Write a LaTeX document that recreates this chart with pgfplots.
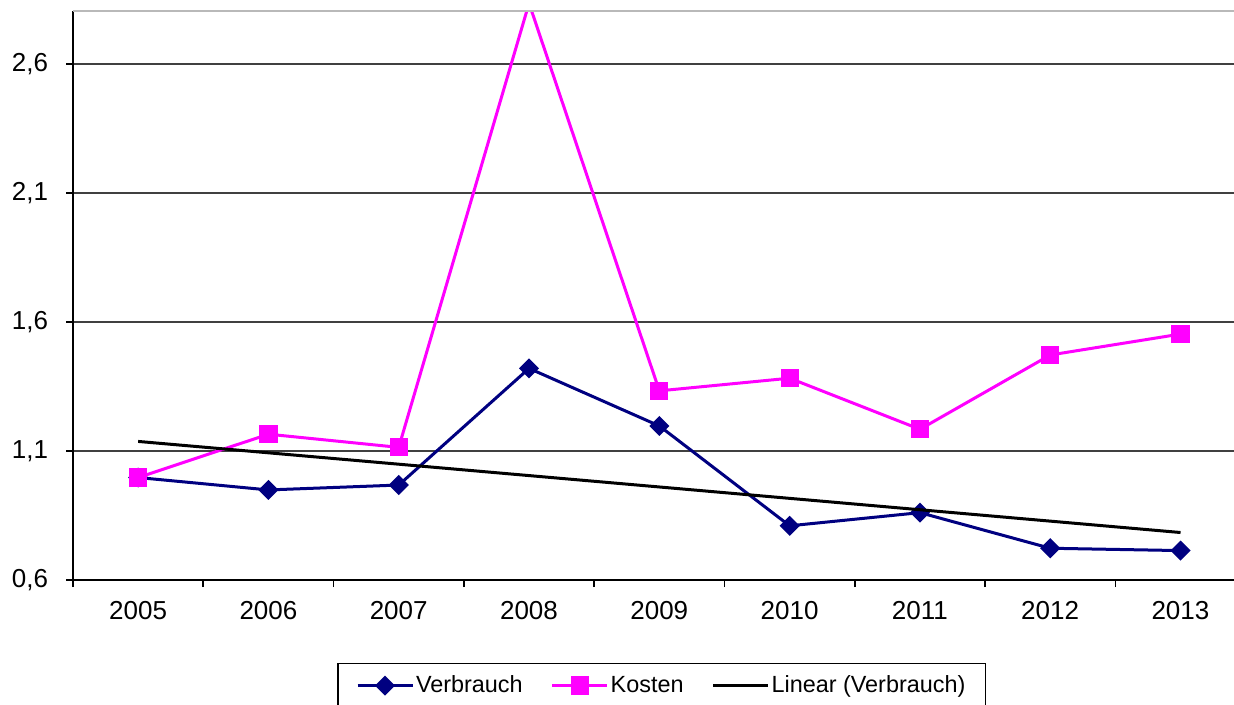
\documentclass[border=0pt]{standalone}
\usepackage{fontspec}
\setmainfont{Liberation Sans}
\usepackage{pgfplots}
\pgfplotsset{compat=1.18}

\definecolor{verbrauch}{RGB}{0,0,128}
\definecolor{kosten}{RGB}{255,0,255}
\definecolor{gridc}{RGB}{64,64,64}

\begin{document}
\begin{tikzpicture}
\useasboundingbox (-36.5pt,-62.5pt) rectangle (580.5pt,290pt);
\begin{axis}[
    at={(0pt,0pt)}, anchor=south west,
    scale only axis,
    width=586.35pt, height=284.5pt,
    xmin=2004.5, xmax=2013.5,
    ymin=0.6, ymax=2.805,
    clip marker paths=true,
    axis x line*=bottom, axis y line*=left,
    axis line style={black, line width=0.8pt},
    xtick={2005,...,2013},
    minor xtick={2004.5,2005.5,...,2013.5},
    major x tick style={draw=none},
    minor x tick style={black, line width=0.8pt},
    minor tick length=3.5pt,
    ytick={0.6,1.1,1.6,2.1,2.6},
    major tick length=3.5pt,
    y tick style={black, line width=0.8pt},
    tick align=outside,
    ymajorgrids,
    grid style={gridc, line width=1pt},
    ticklabel style={font=\fontsize{13pt}{15pt}\selectfont, text=black},
    /pgf/number format/assume math mode=true,
    xticklabel style={yshift=-3.5pt, /pgf/number format/1000 sep={}},
    yticklabel style={xshift=-5.5pt, /pgf/number format/.cd, use comma, fixed, fixed zerofill, precision=1},
    legend columns=3,
    legend style={at={(0.502,0)}, anchor=north, yshift=-41.5pt,
        draw=black, line width=0.6pt,
        font=\fontsize{11.7pt}{14pt}\selectfont,
        inner xsep=9pt, inner ysep=4pt,
        nodes={inner xsep=1pt},
        /tikz/every even column/.append style={column sep=13pt}},
    legend image code/.code={%
        \draw[mark=none] (0pt,0pt) -- (27.5pt,0pt);
        \path plot coordinates {(13.75pt,0pt)};},
    after end axis/.code={\draw[gray!55, line width=1pt] (rel axis cs:0,1) -- (rel axis cs:1,1);},
]
\addplot[color=verbrauch, line width=1.5pt, mark=square*, mark size=2.8pt,
    mark options={rotate=45, solid, fill=verbrauch}] coordinates {
    (2005,0.997) (2006,0.949) (2007,0.968) (2008,1.420) (2009,1.197)
    (2010,0.810) (2011,0.861) (2012,0.723) (2013,0.714)
};
\addlegendentry{Verbrauch}

% the 2008 value runs past the top edge, so its marker is cut away
\addplot[color=kosten, line width=1.5pt, mark=square*, mark size=3.8pt,
    mark options={solid, fill=kosten}] coordinates {
    (2005,0.997) (2006,1.165) (2007,1.114) (2008,2.835) (2009,1.333)
    (2010,1.382) (2011,1.184) (2012,1.472) (2013,1.553)
};
\addlegendentry{Kosten}

\addplot[color=black, line width=1.5pt] coordinates {
    (2005,1.137) (2013,0.784)
};
\addlegendentry{Linear (Verbrauch)}
\end{axis}
\end{tikzpicture}
\end{document}
